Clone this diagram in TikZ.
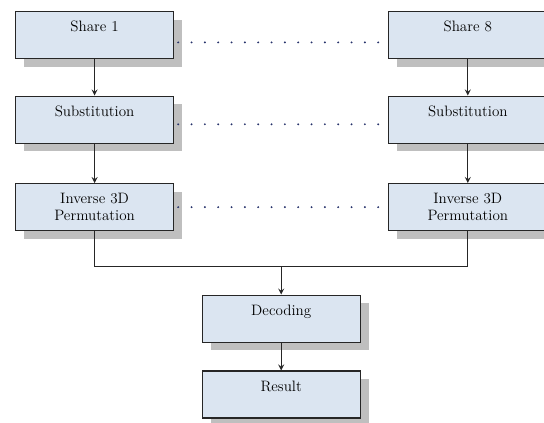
\documentclass[tikz,border=0pt]{standalone}
\usetikzlibrary{shapes.geometric, arrows, positioning, shadows, calc}
\definecolor{boxfill}{HTML}{DBE5F1}
\definecolor{boxshadow}{HTML}{BFBFBF}
\definecolor{dotblue}{HTML}{27336B}
\definecolor{wire}{HTML}{262626}
\tikzstyle{stagebox} = [rectangle, minimum width=118.5pt, minimum height=35.25pt, text width=110pt, text centered, inner ysep=2.5pt, text height=12.5pt, text depth=17.75pt, draw=black!85, line width=0.9pt, fill=boxfill, font=\fontsize{11.3}{12.75}\selectfont, drop shadow={shadow xshift=6.5pt, shadow yshift=-6pt, fill=boxshadow, opacity=1}]
\tikzstyle{arrow} = [draw=wire, line width=1pt, ->, >=stealth]
\tikzstyle{link} = [draw=wire, line width=1pt]
\tikzstyle{dotrow} = [dotblue, line width=1.6pt, line cap=round, dash pattern=on 0pt off 10pt]
\begin{document}
\begin{tikzpicture}[node distance=27.25pt]
\useasboundingbox (0,0) rectangle (408pt,-317.25pt);

\node (share1) [stagebox, anchor=north west] at (11.25pt,-8.25pt) {Share 1};
\node (subst1) [stagebox, below=of share1] {Substitution};
\node (inv1) [stagebox, below=29.5pt of subst1] {Inverse 3D\\Permutation};

\node (share8) [stagebox, right=160.5pt of share1] {Share 8};
\node (subst8) [stagebox, right=160.5pt of subst1] {Substitution};
\node (inv8) [stagebox, right=160.5pt of inv1] {Inverse 3D\\Permutation};

\coordinate [below=26.5pt of inv1.south] (bend1);
\coordinate [below=26.5pt of inv8.south] (bend8);
\coordinate (join) at ($(bend1)!0.5!(bend8)$);

\node (decode) [stagebox, below=21pt of join] {Decoding};
\node (result) [stagebox, below=20.75pt of decode] {Result};

\draw [arrow] (share1) -- (subst1);
\draw [arrow] (subst1) -- (inv1);
\draw [arrow] (share8) -- (subst8);
\draw [arrow] (subst8) -- (inv8);
\draw [link] (inv1) -- (bend1) -- (bend8) -- (inv8);
\draw [arrow] (join) -- (decode);
\draw [arrow] (decode) -- (result);

% shares in between
\draw [dotrow] ([shift={(3pt,-5.5pt)}]share1.east) -- ([yshift=-5.5pt]share8.west);
\draw [dotrow] ([shift={(3pt,-3.5pt)}]subst1.east) -- ([yshift=-3.5pt]subst8.west);
\draw [dotrow] ([shift={(3pt,0pt)}]inv1.east) -- (inv8.west);

\end{tikzpicture}
\end{document}
